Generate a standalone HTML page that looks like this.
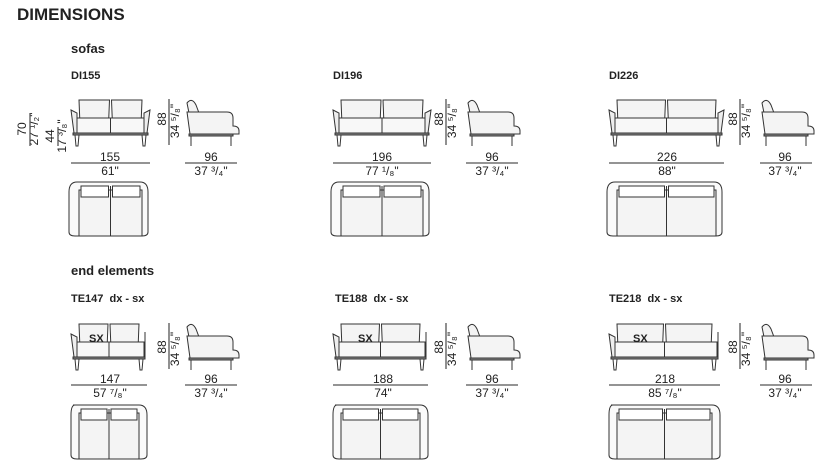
<!DOCTYPE html>
<html><head><meta charset="utf-8"><style>
html,body{margin:0;padding:0;background:#fff}
svg{display:block;font-family:"Liberation Sans",Arial,sans-serif}
.t{font-weight:bold;fill:#222}
.n{font-size:12px;fill:#222;text-anchor:middle}
.b{font-size:11px;fill:#222;font-weight:bold}
</style></head><body>
<svg id="s" width="826" height="470" viewBox="0 0 826 470" xmlns="http://www.w3.org/2000/svg">
<text x="17" y="20" class="t" font-size="17">DIMENSIONS</text>
<text x="71" y="53" class="t" font-size="13">sofas</text>
<text x="71" y="79" class="b">DI155</text>
<text x="333" y="79" class="b">DI196</text>
<text x="609" y="79" class="b">DI226</text>
<text x="71" y="275" class="t" font-size="13">end elements</text>
<text x="71" y="302" class="b">TE147&#160; dx - sx</text>
<text x="335" y="302" class="b">TE188&#160; dx - sx</text>
<text x="609" y="302" class="b">TE218&#160; dx - sx</text>

<text class="n" x="110" y="161">155</text><text class="n" x="110" y="175">61"</text>
<text class="n" x="211" y="161">96</text><text class="n" x="211" y="175">37 ³/₄"</text>
<text class="n" x="382" y="161">196</text><text class="n" x="382" y="175">77 ¹/₈"</text>
<text class="n" x="492" y="161">96</text><text class="n" x="492" y="175">37 ³/₄"</text>
<text class="n" x="667" y="161">226</text><text class="n" x="667" y="175">88"</text>
<text class="n" x="785" y="161">96</text><text class="n" x="785" y="175">37 ³/₄"</text>

<text class="n" x="110" y="383">147</text><text class="n" x="110" y="397">57 ⁷/₈"</text>
<text class="n" x="211" y="383">96</text><text class="n" x="211" y="397">37 ³/₄"</text>
<text class="n" x="383" y="383">188</text><text class="n" x="383" y="397">74"</text>
<text class="n" x="492" y="383">96</text><text class="n" x="492" y="397">37 ³/₄"</text>
<text class="n" x="665" y="383">218</text><text class="n" x="665" y="397">85 ⁷/₈"</text>
<text class="n" x="785" y="383">96</text><text class="n" x="785" y="397">37 ³/₄"</text>

<text class="n" transform="translate(26,129) rotate(-90)">70</text>
<text class="n" transform="translate(38,129) rotate(-90)">27 ¹/₂"</text>
<text class="n" transform="translate(54,136) rotate(-90)">44</text>
<text class="n" transform="translate(66,136) rotate(-90)">17 ³/₈"</text>

<text class="n" transform="translate(166,119) rotate(-90)">88</text><text class="n" transform="translate(179,121) rotate(-90)">34 ⁵/₈"</text>
<text class="n" transform="translate(443,119) rotate(-90)">88</text><text class="n" transform="translate(456,121) rotate(-90)">34 ⁵/₈"</text>
<text class="n" transform="translate(737,119) rotate(-90)">88</text><text class="n" transform="translate(750,121) rotate(-90)">34 ⁵/₈"</text>
<text class="n" transform="translate(166,347) rotate(-90)">88</text><text class="n" transform="translate(179,349) rotate(-90)">34 ⁵/₈"</text>
<text class="n" transform="translate(443,347) rotate(-90)">88</text><text class="n" transform="translate(456,349) rotate(-90)">34 ⁵/₈"</text>
<text class="n" transform="translate(737,347) rotate(-90)">88</text><text class="n" transform="translate(750,349) rotate(-90)">34 ⁵/₈"</text>

<g id="g" fill="none" stroke="#333" stroke-width="1"></g>
<text class="b" x="89" y="342">SX</text>
<text class="b" x="358" y="342">SX</text>
<text class="b" x="633" y="342">SX</text>
</svg>
<script>
(function(){
var NS='http://www.w3.org/2000/svg';
var g=document.getElementById('g');
function p(d,f){var e=document.createElementNS(NS,'path');e.setAttribute('d',d);if(f)e.setAttribute('fill',f);g.appendChild(e);}
function L(x1,y1,x2,y2,c,sw){var e=document.createElementNS(NS,'line');e.setAttribute('x1',x1);e.setAttribute('y1',y1);e.setAttribute('x2',x2);e.setAttribute('y2',y2);e.setAttribute('stroke',c||'#555');if(sw)e.setAttribute('stroke-width',sw);g.appendChild(e);}
function front(x,y,w,end){
 var cw=(w-14)/2-2;
 p('M'+(x+8)+' '+y+'h'+cw+'l-1 25h-'+(cw-2)+'z','#f4f4f4');
 p('M'+(x+w/2+1)+' '+y+'h'+cw+'l-1 25h-'+(cw-2)+'z','#f4f4f4');
 p('M'+(x+3)+' '+(y+18)+'h'+(w-6)+'v15h-'+(w-6)+'z','#f8f8f8');
 L(x+w/2,y+18,x+w/2,y+33,'#333');
 p('M'+x+' '+(y+10)+'l6 3v20h-3z','#eee');
 if(!end) p('M'+(x+w)+' '+(y+10)+'l-6 3v20h3z','#eee'); else L(x+w-2,y+8,x+w-2,y+34,'#333');
 p('M'+(x+2)+' '+(y+33)+'h'+(w-4)+'v2h-'+(w-4)+'z','#888');
 p('M'+(x+4)+' '+(y+35)+'l1 11h2l1-11');p('M'+(x+w-8)+' '+(y+35)+'l1 11h2l1-11');
}
function side(x,y){
 p('M'+(x+2)+' '+(y+3)+'q5-6 9 2l3 8h-10z','#f3f3f3');
 p('M'+(x+2)+' '+(y+12)+'h40q6 0 6 6v8q6 0 6 5v3h-49z','#f4f4f4');
 p('M'+(x+4)+' '+(y+34)+'h44v2h-44z','#888');
 p('M'+(x+6)+' '+(y+36)+'v10M'+(x+46)+' '+(y+36)+'v10');
}
function topv(x,y,w,end){
 var hh=54;
 p('M'+(x+(end?2:10))+' '+y+'h'+(w-(end?10:20))+'q8 0 8 10v'+(hh-14)+'q0 4-6 4h-'+(w-12)+'q-6 0-6-4v-'+(hh-14)+'q0-10 '+(end?'4-10':'8-10')+'z','#fafafa');
 var ix=x+8,iw=w-16,c=iw/2;
 p('M'+ix+' '+(y+8)+'h'+iw+'v'+(hh-8)+'h-'+iw+'z','#f4f4f4');
 p('M'+(ix+2)+' '+(y+4)+'h'+(c-4)+'v11h-'+(c-4)+'z','#fff');
 p('M'+(ix+c+2)+' '+(y+4)+'h'+(c-4)+'v11h-'+(c-4)+'z','#fff');
 L(ix+c,y+4,ix+c,y+hh,'#333');
}
var rows=[[100,163,182,false],[324,385,405,true]];
var cols=[[71,79,185],[333,98,466],[609,115,760]];
var ew=[76,95,111];
var vxs=[169,446,740];
rows.forEach(function(r,ri){cols.forEach(function(c,ci){
 var x=c[0],w=ri?ew[ci]:c[1];
 front(x,r[0],w,r[3]);side(c[2],r[0]);topv(x,r[2],w,r[3]);
 L(x,r[1],x+w,r[1],'#555',1.3);L(c[2],r[1],c[2]+52,r[1],'#555',1.3);
 L(vxs[ci],r[0]-1,vxs[ci],r[0]+45,'#555',1.3);
});});
L(30,113,30,146,'#555',1.3);L(58,127,58,146,'#555',1.3);
})();
</script>
</body></html>
